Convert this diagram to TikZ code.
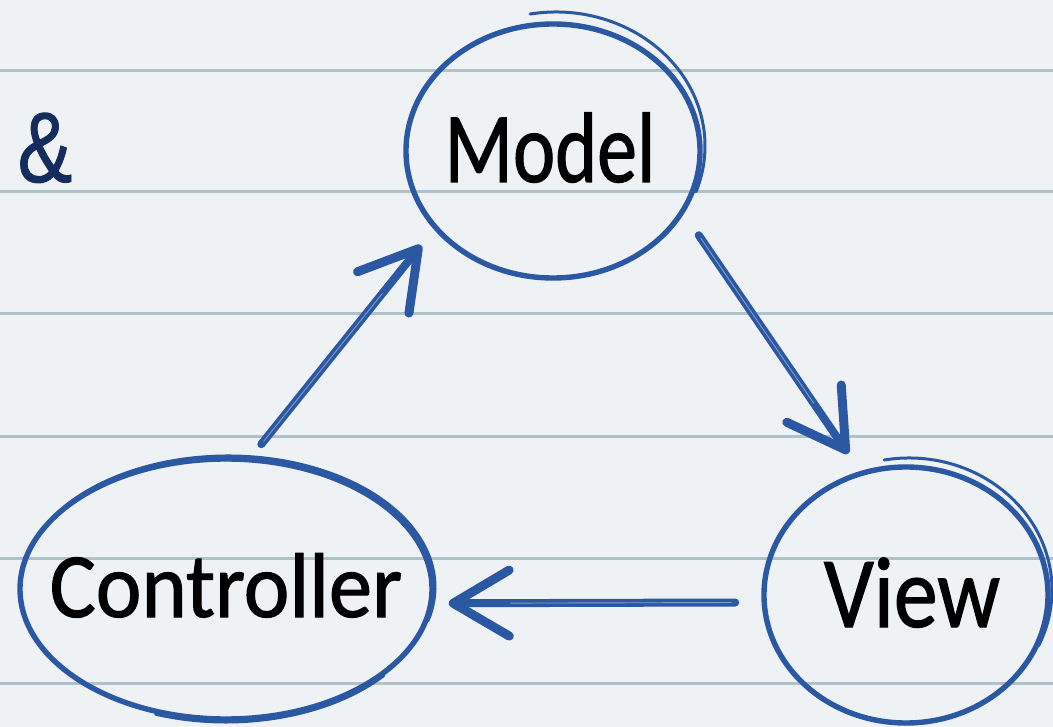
\documentclass[tikz,border=0pt]{standalone}
\usepackage{fontspec}
\setmainfont{Carlito}
\newfontfamily\lblfont{Carlito}[FakeBold=1.2]
\newfontfamily\ampfont{Liberation Sans}[FakeBold=1]
\usetikzlibrary{shapes.geometric,arrows.meta,calc}
\definecolor{paper}{HTML}{EEF2F4}
\definecolor{rule}{HTML}{AEC2CA}
\definecolor{ink}{HTML}{2A58A2}
\definecolor{navy}{HTML}{152C5E}
\begin{document}
\begin{tikzpicture}[x=1pt,y=-1pt,
  bubble/.style={ellipse, draw=ink, line width=5.4pt, inner sep=0pt, outer sep=0pt},
  stroke2/.style={draw=ink, line width=3pt, line cap=round},
  lbl/.style={anchor=base, inner sep=0pt, text=black},
  flow/.style={draw=ink, line width=8pt, line cap=round,
    -{Straight Barb[length=56pt,width=66pt,line width=9pt,round]}},
  gap/.style={draw=paper!45!ink, line width=0.9pt, line cap=round},
  ruling/.style={draw=rule, line width=3pt}
]
\fill[paper] (0,0) rectangle (1053,727);
\useasboundingbox (0,0) rectangle (1053,727);
\foreach \yy in {71,192,314,437,558,683} \draw[ruling] (0,\yy) -- (1053,\yy);

% bubbles
\node[bubble, minimum width=294pt, minimum height=254pt] (model) at (553,151) {};
\node[bubble, minimum width=412pt, minimum height=260pt] (ctrl) at (226,589) {};
\node[bubble, minimum width=284pt, minimum height=256pt] (view) at (906,595) {};

% second pen strokes
\draw[stroke2] ($(model.center)+(3pt,5pt)+(100:149pt and 134pt)$) arc[start angle=100, end angle=-20, x radius=149pt, y radius=134pt];
\draw[stroke2] ($(ctrl.center)+(2pt,2pt)+(150:207pt and 131pt)$) arc[start angle=150, end angle=-15, x radius=207pt, y radius=131pt];
\draw[stroke2] ($(ctrl.center)+(0pt,-3pt)+(250:206pt and 130pt)$) arc[start angle=250, end angle=320, x radius=206pt, y radius=130pt];
\draw[stroke2] ($(view.center)+(3pt,5pt)+(100:143pt and 132pt)$) arc[start angle=100, end angle=-25, x radius=143pt, y radius=132pt];

% labels
\node[lbl, font=\lblfont\fontsize{100}{100}\selectfont] (tmodel) at (550,182) {\scalebox{0.8}[1]{Model}};
\node[lbl, font=\lblfont\fontsize{92}{92}\selectfont] (tctrl) at (226,617) {\scalebox{0.94}[1]{Controller}};
\node[lbl, font=\lblfont\fontsize{101}{101}\selectfont] (tview) at (912,627) {\scalebox{0.87}[1]{View}};
\node[lbl, text=navy, font=\ampfont\fontsize{100}{100}\selectfont] (amp) at (45,182) {\scalebox{0.82}[1]{\&}};

% connectors
\draw[flow, shorten <=20pt, shorten >=23pt] (ctrl.80.7) -- (model.213);
\draw[gap, shorten <=24pt, shorten >=85pt] (ctrl.80.7) -- (model.213);
\draw[flow, shorten <=29pt, shorten >=24pt] (model.335) -- (view.110);
\draw[gap, shorten <=33pt, shorten >=85pt] (model.335) -- (view.110);
\draw[flow, shorten <=29pt, shorten >=18pt] (view.183.7) -- (ctrl.356.9);
\draw[gap, shorten <=33pt, shorten >=80pt] (view.183.7) -- (ctrl.356.9);
\end{tikzpicture}
\end{document}
